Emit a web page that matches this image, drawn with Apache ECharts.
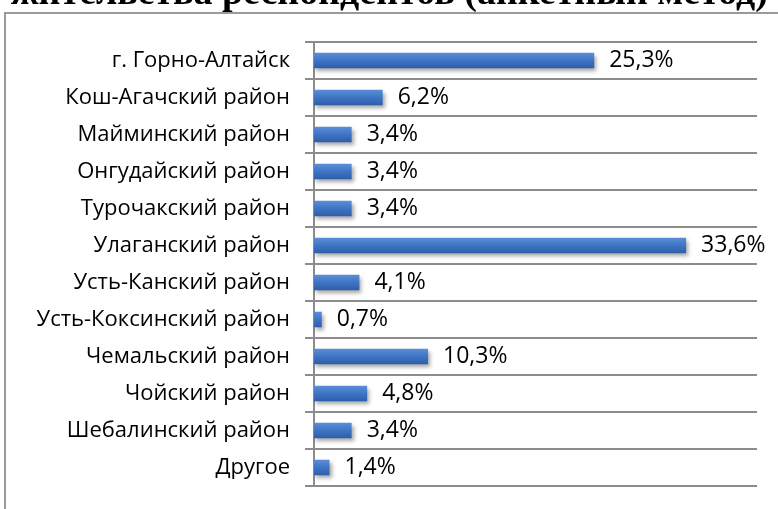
<!DOCTYPE html>
<html>
<head>
<meta charset="utf-8">
<script src="https://cdn.jsdelivr.net/npm/echarts@6/dist/echarts.min.js"></script>
<style>
  html, body { margin: 0; padding: 0; background: #fff; }
  #chart { width: 778px; height: 509px; }
</style>
</head>
<body>
<div id="chart"></div>
<script>
// данные диаграммы
var categories = [
  'г. Горно-Алтайск',
  'Кош-Агачский район',
  'Майминский район',
  'Онгудайский район',
  'Турочакский район',
  'Улаганский район',
  'Усть-Канский район',
  'Усть-Коксинский район',
  'Чемальский район',
  'Чойский район',
  'Шебалинский район',
  'Другое'
]
var values = [25.3, 6.2, 3.4, 3.4, 3.4, 33.6, 4.1, 0.7, 10.3, 4.8, 3.4, 1.4]
var titleText = 'Распределение по месту жительства респондентов (анкетный метод)'

var chart = echarts.init(document.getElementById('chart'))

var gridColor = '#8c8c8c'
var labelFont = 'Open Sans'

chart.setOption({
  animation: false,
  graphic: [
    {
      type: 'text',
      right: 10,
      top: -25,
      style: {
        text: titleText,
        font: 'bold 38px "Liberation Serif"',
        fill: '#000'
      }
    },
    {
      type: 'rect',
      shape: { x: 5, y: 13, width: 800, height: 520 },
      style: { fill: 'none', stroke: '#9a9a9a', lineWidth: 2 }
    }
  ],
  grid: { left: 314, right: 21, top: 42, bottom: 23 },
  xAxis: {
    type: 'value',
    min: 0,
    max: 40,
    show: false
  },
  yAxis: {
    type: 'category',
    inverse: true,
    data: categories,
    axisLine: { show: true, lineStyle: { color: gridColor, width: 2 } },
    axisTick: { show: true, length: 9, lineStyle: { color: gridColor, width: 2 } },
    splitLine: { show: true, lineStyle: { color: gridColor, width: 2 } },
    axisLabel: {
      color: '#000',
      fontSize: 22,
      fontFamily: labelFont,
      margin: 24
    }
  },
  series: [{
    type: 'bar',
    data: values,
    barWidth: '42%',
    itemStyle: {
      color: new echarts.graphic.LinearGradient(0, 0, 0, 1, [
        { offset: 0, color: '#5b8fd8' },
        { offset: 0.5, color: '#3f74c4' },
        { offset: 1, color: '#2d5ea8' }
      ]),
      shadowColor: 'rgba(0,0,0,0.35)',
      shadowBlur: 4,
      shadowOffsetX: 2,
      shadowOffsetY: 3
    },
    label: {
      show: true,
      position: 'right',
      distance: 15,
      color: '#000',
      fontSize: 23,
      fontFamily: labelFont,
      formatter: function(p) { return String(p.value).replace('.', ',') + '%' }
    }
  }]
})
</script>
</body>
</html>
